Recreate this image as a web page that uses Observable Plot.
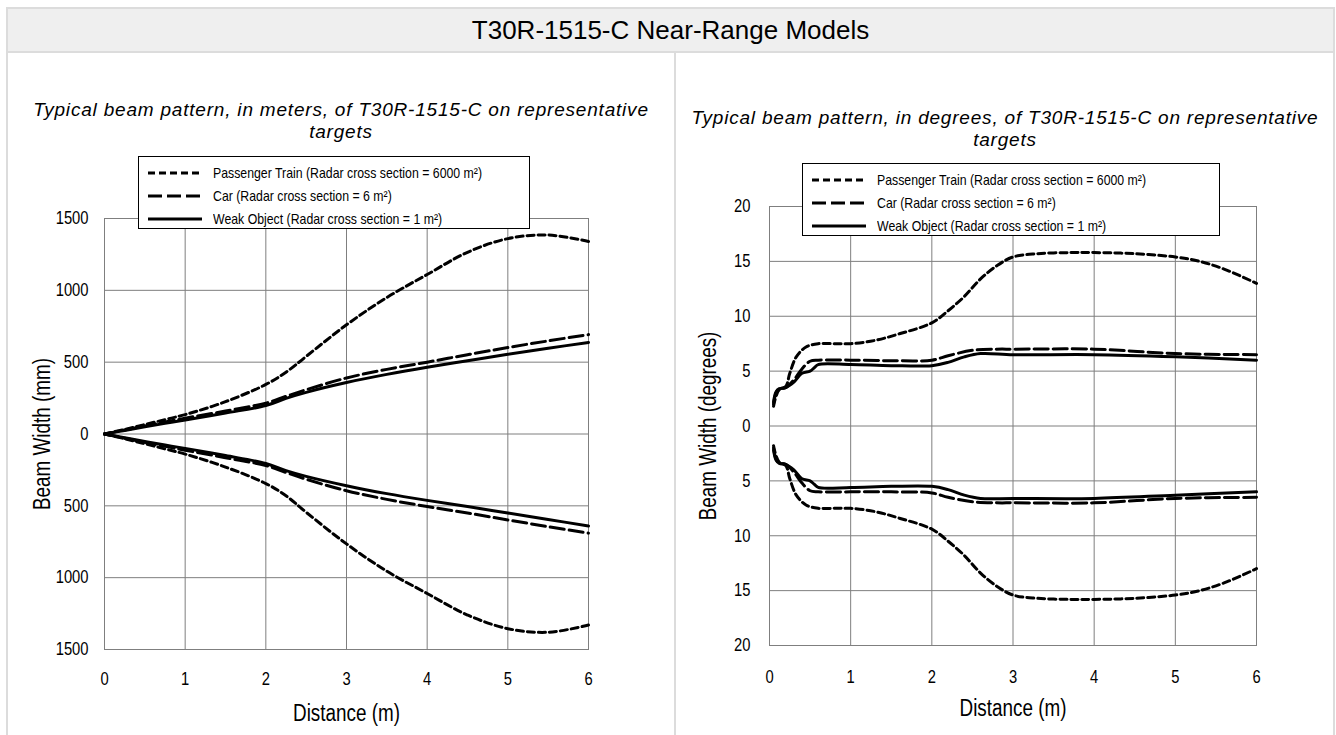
<!DOCTYPE html>
<html><head><meta charset="utf-8">
<script src="https://cdn.jsdelivr.net/npm/d3@7"></script>
<script src="https://cdn.jsdelivr.net/npm/@observablehq/plot@0.6"></script>
<style>
body{margin:0;background:#fff;}
#page{position:relative;width:1336px;height:735px;overflow:hidden;background:#fff;font-family:"Liberation Sans",Arial,sans-serif;color:#000;}
#frame{position:absolute;left:6px;top:7px;width:1329px;height:760px;border:2px solid #dcdcdc;box-sizing:border-box;}
#titlebar{position:absolute;left:8px;top:9px;width:1325px;height:44px;background:#efefef;border-bottom:2px solid #dcdcdc;box-sizing:border-box;text-align:center;line-height:42px;font-size:26px;}
#divider{position:absolute;left:674px;top:53px;width:2px;height:700px;background:#dcdcdc;}
.sub{position:absolute;font-style:italic;font-size:19px;line-height:22px;letter-spacing:0.8px;text-align:center;}
.legend{position:absolute;background:#fff;border:1px solid #000;box-sizing:border-box;}
.row{position:absolute;left:0;height:20px;font-size:15px;line-height:20px;white-space:nowrap;}
.row svg{position:absolute;left:8px;top:0;}
.row span{position:absolute;left:74px;top:0;display:inline-block;transform:scaleX(0.82);transform-origin:0 50%;}
.plot{position:absolute;}
</style></head>
<body><div id="page">
<div id="frame"></div>
<div id="titlebar">T30R-1515-C Near-Range Models</div>
<div id="divider"></div>
<div class="sub" id="subL" style="left:8px;width:666px;top:99px;">Typical beam pattern, in meters, of T30R-1515-C on representative<br>targets</div>
<div class="sub" id="subR" style="left:676px;width:658px;top:107px;">Typical beam pattern, in degrees, of T30R-1515-C on representative<br>targets</div>
</div>
<script>
// ---------- tick values ----------
const distanceTicks = [0, 1, 2, 3, 4, 5, 6];
const mmTicks = [-1500, -1000, -500, 0, 500, 1000, 1500];
const degTicks = [-20, -15, -10, -5, 0, 5, 10, 15, 20];

// ---------- series names ----------
const seriesNames = [
  "Passenger Train (Radar cross section = 6000 m²)",
  "Car (Radar cross section = 6 m²)",
  "Weak Object (Radar cross section = 1 m²)"
];

// ---------- left chart: beam width in mm ----------
const mmDistance   = [0, 0.25, 0.5, 0.75, 1, 1.5, 2, 2.25, 2.5, 3, 3.5, 4, 4.5, 5, 5.5, 6];
const mmTrainUpper = [0, 32, 66, 100, 135, 225, 345, 430, 540, 760, 950, 1110, 1265, 1360, 1385, 1340];
const mmTrainLower = [0, -33, -68, -104, -140, -230, -345, -430, -545, -765, -955, -1110, -1260, -1355, -1380, -1330];
const mmCarUpper   = [0, 28, 56, 83, 110, 160, 215, 262, 308, 390, 450, 500, 552, 602, 648, 692];
const mmCarLower   = [0, -29, -58, -86, -113, -165, -220, -268, -315, -395, -455, -505, -550, -598, -645, -690];
const mmWeakUpper  = [0, 25, 50, 74, 97, 146, 198, 248, 290, 358, 415, 465, 510, 555, 597, 637];
const mmWeakLower  = [0, -26, -52, -77, -100, -150, -205, -255, -295, -360, -415, -462, -505, -550, -595, -640];

// ---------- right chart: beam width in degrees ----------
const degTrainX     = [0.05, 0.08, 0.12, 0.2, 0.25, 0.33, 0.45, 0.6, 0.8, 1, 1.3, 1.6, 2, 2.2, 2.4, 2.6, 2.8, 3, 3.3, 3.7, 4, 4.5, 5, 5.3, 5.6, 6];
const degTrainUpper = [1.8, 2.7, 3.3, 3.6, 4.8, 6.3, 7.2, 7.5, 7.5, 7.5, 7.8, 8.4, 9.4, 10.5, 11.8, 13.4, 14.6, 15.4, 15.7, 15.8, 15.8, 15.7, 15.4, 15.0, 14.3, 13.0];
const degTrainLower = [-1.8, -2.7, -3.3, -3.6, -4.8, -6.3, -7.2, -7.5, -7.5, -7.5, -7.8, -8.4, -9.4, -10.5, -11.8, -13.4, -14.6, -15.4, -15.7, -15.8, -15.8, -15.7, -15.4, -15.0, -14.3, -13.0];
const degCarX       = [0.05, 0.08, 0.12, 0.2, 0.3, 0.4, 0.5, 0.6, 1, 1.5, 2, 2.2, 2.5, 2.8, 3, 4, 5, 6];
const degCarUpper   = [2.0, 3.0, 3.4, 3.5, 4.2, 5.2, 5.9, 6.0, 6.0, 5.95, 6.0, 6.4, 6.9, 7.0, 7.0, 7.0, 6.6, 6.5];
const degCarLower   = [-2.0, -3.0, -3.4, -3.5, -4.2, -5.2, -5.9, -6.0, -6.0, -6.0, -6.1, -6.5, -6.9, -7.0, -7.0, -7.0, -6.6, -6.5];
const degWeakX      = [0.05, 0.08, 0.12, 0.2, 0.3, 0.4, 0.5, 0.55, 0.6, 1, 1.5, 2, 2.2, 2.4, 2.6, 3, 4, 5, 6];
const degWeakUpper  = [2.2, 3.1, 3.4, 3.5, 4.0, 4.8, 5.0, 5.3, 5.6, 5.6, 5.5, 5.5, 5.8, 6.3, 6.6, 6.5, 6.5, 6.3, 6.0];
const degWeakLower  = [-2.2, -3.1, -3.4, -3.5, -4.0, -4.8, -5.0, -5.3, -5.6, -5.6, -5.5, -5.5, -5.8, -6.3, -6.6, -6.6, -6.6, -6.3, -6.0];

// ---------- styles ----------
const dashes = ["7,4", "14,5", null];
const fontFam = '"Liberation Sans",Arial,sans-serif';
const gridColor = "#7f7f7f";

function toRows(xs, ys) { return xs.map((x, i) => ({x, y: ys[i]})); }

function lineMarks(seriesList) {
  const marks = [];
  seriesList.forEach((s, i) => {
    s.forEach(rows => {
      marks.push(Plot.line(rows, {x: "x", y: "y", stroke: "#000", strokeWidth: 3,
        strokeDasharray: dashes[i] || undefined, curve: "catmull-rom"}));
    });
  });
  return marks;
}

function makePlot(cfg) {
  return Plot.plot({
    width: cfg.width, height: cfg.height,
    marginLeft: cfg.ml, marginRight: cfg.mr, marginTop: cfg.mt, marginBottom: cfg.mb,
    style: {fontFamily: fontFam, color: "#000", background: "transparent", overflow: "visible"},
    x: {domain: [0, 6]},
    y: {domain: cfg.yDomain},
    marks: [
      Plot.gridX(distanceTicks, {stroke: gridColor, strokeOpacity: 1}),
      Plot.gridY(cfg.yTicks, {stroke: gridColor, strokeOpacity: 1}),
      Plot.frame({stroke: gridColor}),
      Plot.axisX(distanceTicks, {tickSize: 0, tickPadding: cfg.xPad, fontSize: 18, label: null, tickFormat: d => String(d)}),
      Plot.axisY(cfg.yTicks, {tickSize: 0, tickPadding: cfg.yPad, fontSize: 18, label: null, tickFormat: d => String(Math.abs(d))}),
      Plot.text([cfg.xLabel], {frameAnchor: "bottom", dy: cfg.xLabelDy, fontSize: 23, fill: "#000", textAnchor: "middle", lineAnchor: "middle"}),
      Plot.text([cfg.yLabel], {frameAnchor: "left", dx: -cfg.yLabelDx, rotate: -90, fontSize: 23, fill: "#000", textAnchor: "middle", lineAnchor: "middle"}),
      ...lineMarks(cfg.series)
    ]
  });
}

// condense svg text to mimic a narrow face
function condense(svg, k) {
  svg.querySelectorAll("text").forEach(t => {
    const w = t.getComputedTextLength();
    if (w > 0) {
      t.setAttribute("textLength", (w * k).toFixed(2));
      t.setAttribute("lengthAdjust", "spacingAndGlyphs");
    }
  });
}

const page = document.getElementById("page");

const left = makePlot({
  width: 670, height: 595, ml: 104, mr: 82, mt: 78, mb: 86,
  yDomain: [-1500, 1500], yTicks: mmTicks, xPad: 23, yPad: 16,
  xLabel: "Distance (m)", xLabelDy: 64, yLabel: "Beam Width (mm)", yLabelDx: 62,
  series: [
    [toRows(mmDistance, mmTrainUpper), toRows(mmDistance, mmTrainLower)],
    [toRows(mmDistance, mmCarUpper), toRows(mmDistance, mmCarLower)],
    [toRows(mmDistance, mmWeakUpper), toRows(mmDistance, mmWeakLower)]
  ]
});
left.classList.add("plot");
left.style.left = "0px"; left.style.top = "140px";
page.appendChild(left);

const right = makePlot({
  width: 660, height: 595, ml: 93, mr: 80, mt: 66, mb: 90,
  yDomain: [-20, 20], yTicks: degTicks, xPad: 25, yPad: 19,
  xLabel: "Distance (m)", xLabelDy: 63, yLabel: "Beam Width (degrees)", yLabelDx: 61,
  series: [
    [toRows(degTrainX, degTrainUpper), toRows(degTrainX, degTrainLower)],
    [toRows(degCarX, degCarUpper), toRows(degCarX, degCarLower)],
    [toRows(degWeakX, degWeakUpper), toRows(degWeakX, degWeakLower)]
  ]
});
right.classList.add("plot");
right.style.left = "676px"; right.style.top = "140px";
page.appendChild(right);

condense(left, 0.82);
condense(right, 0.82);

function makeLegend(leftPx, topPx, widthPx) {
  const box = document.createElement("div");
  box.className = "legend";
  box.style.left = leftPx + "px"; box.style.top = topPx + "px";
  box.style.width = widthPx + "px"; box.style.height = "73px";
  const rowTops = [6, 29, 52];
  seriesNames.forEach((name, i) => {
    const row = document.createElement("div");
    row.className = "row";
    row.style.top = rowTops[i] + "px";
    row.innerHTML = `<svg width="56" height="20"><line x1="1" x2="55" y1="10" y2="10" stroke="#000" stroke-width="3" ${dashes[i] ? `stroke-dasharray="${dashes[i]}"` : ""}/></svg><span>${name}</span>`;
    box.appendChild(row);
  });
  page.appendChild(box);
}
makeLegend(138, 156, 392);
makeLegend(802, 163, 418);
</script>
</body></html>
